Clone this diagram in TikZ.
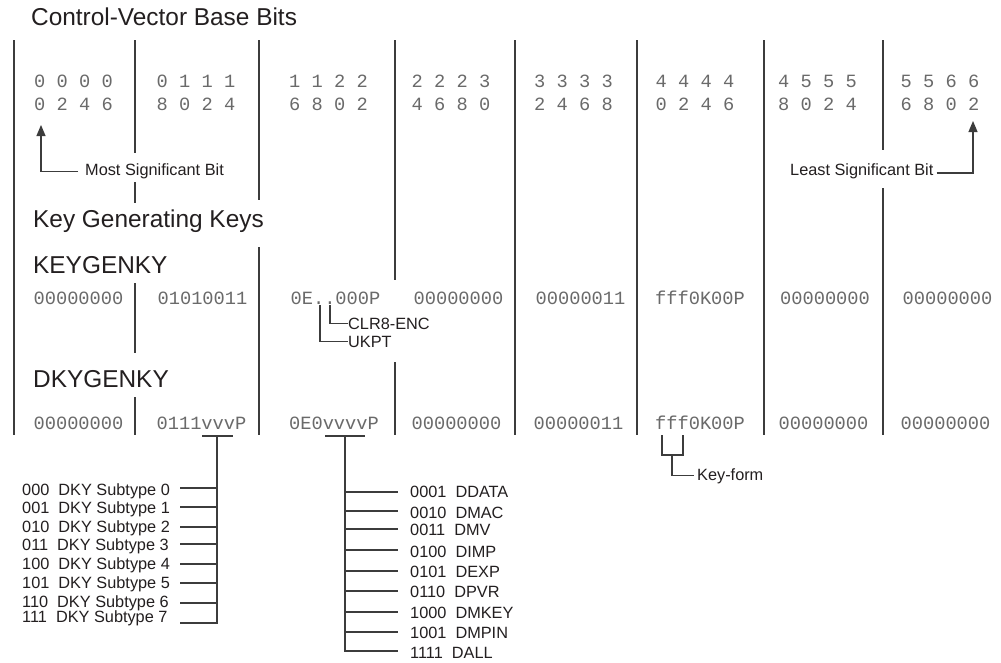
\documentclass[tikz,border=0pt]{standalone}
\usepackage{fontspec}
\setmainfont{Liberation Sans}
\newfontfamily\monof{Liberation Mono}
\usetikzlibrary{arrows.meta}
\definecolor{ink}{HTML}{231F20}
\definecolor{numc}{HTML}{6A6A6A}
\definecolor{linec}{HTML}{3C3C3C}
\begin{document}
\begin{tikzpicture}[x=1pt,y=-1pt,
  big/.style={font=\fontsize{24.4}{28}\selectfont, text=ink, inner sep=0pt, anchor=base west},
  lbl/.style={font=\fontsize{16.3}{19}\selectfont, text=ink, inner sep=0pt, anchor=base west},
  num/.style={font=\monof\fontsize{18.7}{22}\selectfont, text=numc, inner sep=0pt, anchor=base},
  sep/.style={draw=linec, line width=1.2pt},
  conn/.style={draw=linec, line width=1.1pt},
  tipped/.style={-{Triangle[width=9pt,length=11pt]}}
]
\useasboundingbox (0,0) rectangle (1001,662);
\fill[white] (0,0) rectangle (1001,662);

% headings
\node[big] (title) at (31,25.5) {Control-Vector Base Bits};
\node[big] (kgk) at (33,227) {Key Generating Keys};
\node[big] (kg) at (33,273) {KEYGENKY};
\node[big] (dkg) at (33,387) {DKYGENKY};

% bit headers
\foreach \cx/\ta/\tb [count=\i] in {73.5/0 0 0 0/0 2 4 6, 196/0 1 1 1/8 0 2 4, 328.5/1 1 2 2/6 8 0 2, 451/2 2 2 3/4 6 8 0, 573.5/3 3 3 3/2 4 6 8, 695/4 4 4 4/0 2 4 6, 817.5/4 5 5 5/8 0 2 4, 940/5 5 6 6/6 8 0 2}{
  \node[num] (ha\i) at (\cx,87.5) {\ta};
  \node[num] (hb\i) at (\cx,110.5) {\tb};
}

% KEYGENKY row
\foreach \cx/\txt [count=\i] in {78.5/00000000, 202.5/01010011, 335.5/0E..000P, 458.5/00000000, 580.5/00000011, 700/fff0K00P, 825/00000000, 947.5/00000000}{
  \node[num] (ka\i) at (\cx,304) {\txt};
}

% DKYGENKY row
\foreach \cx/\txt [count=\i] in {78.5/00000000, 201.5/0111vvvP, 334/0E0vvvvP, 456.5/00000000, 578.5/00000011, 700/fff0K00P, 823.5/00000000, 945.5/00000000}{
  \node[num] (kb\i) at (\cx,429) {\txt};
}

% separators
\foreach \sx/\ya/\yb in {14/40/435, 135/40/153, 135/182/203, 135/283/353, 135/397/435, 259/40/200, 259/247/435, 395/40/280, 395/362/435, 515/40/435, 637/40/435, 764/40/435, 883/40/150, 883/188/435}{
  \draw[sep] (\sx,\ya) -- (\sx,\yb);
}

% most / least significant bit
\node[lbl] (msb) at (85,175.5) {Most Significant Bit};
\coordinate (msbtip) at (41,125);
\draw[conn,tipped] ([xshift=-7pt]msb.west) -| (msbtip);

\node[lbl] (lsb) at (790,175) {Least Significant Bit};
\coordinate (lsbtip) at (973,121);
\draw[conn,tipped] ([shift={(3,-2)}]lsb.base east) -| (lsbtip);

% CLR8-ENC / UKPT
\node[lbl] (clr) at (348,329) {CLR8-ENC};
\node[lbl] (ukpt) at (348,347) {UKPT};
\coordinate (dotb) at (320,305);
\coordinate (dotc) at (330,305);
\draw[conn] (dotc) |- (clr.west);
\draw[conn] (dotb) |- (ukpt.west);

% Key-form
\node[lbl] (kf) at (697,480) {Key-form};
\coordinate (kfl) at (662,435);
\coordinate (kfr) at (683,435);
\draw[conn] (kfl) -- (662,455) -- (683,455) -- (kfr);
\draw[conn] (672,455) |- ([xshift=-3pt]kf.west);

% DKY subtypes
\coordinate (vva) at (202,436);
\coordinate (vvb) at (233,436);
\draw[conn] (vva) -- (vvb);
\draw[conn] (217,436) -- (217,623) -- (180,623);
\foreach \ly in {488,507,527,544,564,583,603}{
  \draw[conn] (180,\ly) -- (217,\ly);
}
\foreach \yb/\txt [count=\i] in {495.8/000~~DKY Subtype 0, 513.8/001~~DKY Subtype 1, 532.8/010~~DKY Subtype 2, 550.8/011~~DKY Subtype 3, 569.8/100~~DKY Subtype 4, 588.8/101~~DKY Subtype 5, 607.8/110~~DKY Subtype 6, 622.5/111~~DKY Subtype 7}{
  \node[lbl] (dk\i) at (22,\yb) {\txt};
}

% D types
\coordinate (vvc) at (325,436);
\coordinate (vvd) at (365,436);
\draw[conn] (vvc) -- (vvd);
\draw[conn] (345,436) -- (345,651) -- (398,651);
\foreach \ly in {492,511,529,550,571,591,612,632}{
  \draw[conn] (345,\ly) -- (398,\ly);
}
\foreach \yb/\txt [count=\i] in {497.8/0001~~DDATA, 518.8/0010~~DMAC, 535.8/0011~~DMV, 557.8/0100~~DIMP, 577.8/0101~~DEXP, 597.8/0110~~DPVR, 618.8/1000~~DMKEY, 638.8/1001~~DMPIN, 658.5/1111~~DALL}{
  \node[lbl] (dt\i) at (410,\yb) {\txt};
}
\end{tikzpicture}
\end{document}
